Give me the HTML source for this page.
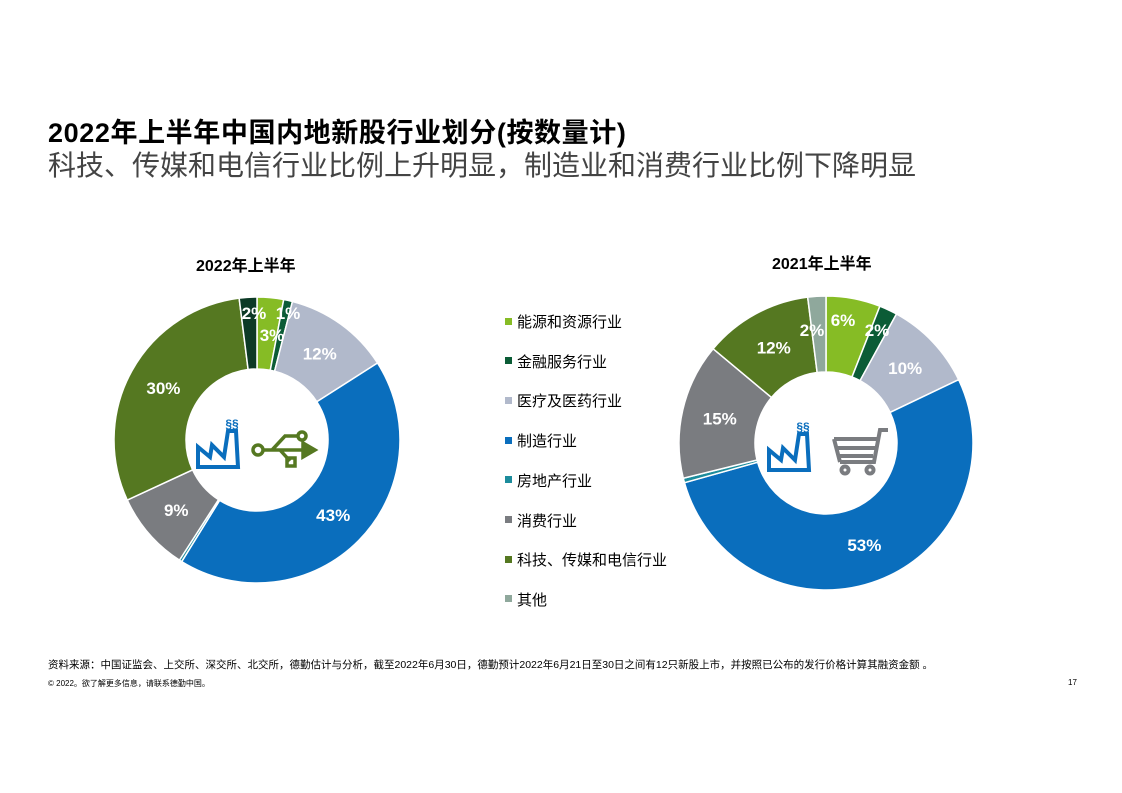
<!DOCTYPE html>
<html><head><meta charset="utf-8"><style>
body{margin:0;background:#fff;font-family:"Liberation Sans","Noto Sans CJK SC",sans-serif;}
.wrap{position:relative;width:1122px;height:793px;overflow:hidden;}
.t1{position:absolute;left:48px;top:111px;font-size:27px;font-weight:bold;color:#000;letter-spacing:0.6px;}
.t2{position:absolute;left:48px;top:144px;font-size:28px;color:#444;letter-spacing:0px;}
.ct{position:absolute;font-size:16px;font-weight:bold;color:#000;}
.leg{position:absolute;left:505px;font-size:15px;color:#000;}
.leg i{display:inline-block;width:7px;height:7px;margin-right:5px;vertical-align:middle;position:relative;top:-2px;}
.src{position:absolute;left:48px;top:657px;font-size:10.5px;color:#000;}
.cp{position:absolute;left:48px;top:678px;font-size:8px;color:#000;}
.pg{position:absolute;left:1068px;top:678px;font-size:8px;}
svg{position:absolute;left:0;top:0;}
</style></head><body><div class="wrap">
<div class="t1">2022年上半年中国内地新股行业划分(按数量计)</div>
<div class="t2">科技、传媒和电信行业比例上升明显，制造业和消费行业比例下降明显</div>
<div class="ct" style="left:196px;top:252px">2022年上半年</div>
<div class="ct" style="left:772px;top:250px">2021年上半年</div>
<div id="legend"></div>
<svg id="svg" width="1122" height="793"></svg>
<div class="src">资料来源：中国证监会、上交所、深交所、北交所，德勤估计与分析，截至2022年6月30日，德勤预计2022年6月21日至30日之间有12只新股上市，并按照已公布的发行价格计算其融资金额 。</div>
<div class="cp">© 2022。欲了解更多信息，请联系德勤中国。</div>
<div class="pg">17</div>
</div>
<script>
const categories=["能源和资源行业","金融服务行业","医疗及医药行业","制造行业","房地产行业","消费行业","科技、传媒和电信行业","其他"];
const colors=["#86bc25","#0b5c36","#b1b9cb","#0a6ebd","#1c8c9c","#7a7c80","#557821","#8fa89c"];
const values2022=[3,1,12,43,0.3,9,30,2];
const labels2022=["3%","1%","12%","43%","","9%","30%","2%"];
const values2021=[6,2,10,53,0.5,15,12,2];
const labels2021=["6%","2%","10%","53%","","15%","12%","2%"];
const NS="http://www.w3.org/2000/svg";
const svg=document.getElementById('svg');
function mk(t,a,p){const e=document.createElementNS(NS,t);for(const k in a)e.setAttribute(k,a[k]);(p||svg).appendChild(e);return e;}
function pt(cx,cy,r,a){return [cx+r*Math.sin(a),cy-r*Math.cos(a)];}
function donut(cx,cy,R,r,vals,labs,cols,name,lblPos){
  const tot=vals.reduce((a,b)=>a+b,0);let a0=0;const lbl=[];
  vals.forEach((v,i)=>{
    const a1=a0+v/tot*2*Math.PI;const lg=(a1-a0)>Math.PI?1:0;
    const p1=pt(cx,cy,R,a0),p2=pt(cx,cy,R,a1),p3=pt(cx,cy,r,a1),p4=pt(cx,cy,r,a0);
    const p=mk('path',{d:`M${p1}A${R},${R} 0 ${lg} 1 ${p2}L${p3}A${r},${r} 0 ${lg} 0 ${p4}Z`,fill:cols[i],stroke:'#fff','stroke-width':1.5});
    
    
    if(labs[i]){
      const am=(a0+a1)/2;let q=pt(cx,cy,(R+r)/2,am);
      if(lblPos[i])q=lblPos[i];
      lbl.push([q,labs[i],i]);
    }
    a0=a1;
  });
  lbl.forEach(([q,s,i])=>{
    const t=mk('text',{x:q[0],y:q[1]+6,'text-anchor':'middle','font-size':17,'font-weight':'bold',fill:'#fff','font-family':'Liberation Sans, sans-serif'});
    t.textContent=s;
    
    
  });
}
donut(257,440,143,71,values2022,labels2022,["#86bc25","#0b5c36","#b1b9cb","#0a6ebd","#1c8c9c","#7a7c80","#557821","#0c3a26"],"donut-2022",{0:[272,335],1:[288,313],7:[254,313]});
donut(826,443,147,71,values2021,labels2021,colors,"donut-2021",{0:[843,320],1:[877,330],7:[812,330]});
const leg=document.getElementById('legend');
categories.forEach((c,i)=>{const d=document.createElement('div');d.className='leg';d.style.top=(311+i*39.7)+'px';
d.innerHTML='<i style="background:'+colors[i]+'"></i>'+c;


leg.appendChild(d);});
function factory(x,y,col){const g=mk('g',{fill:'none',stroke:col,'stroke-width':4});


mk('path',{d:`M${x},${y+30}L${x},${y+10}L${x+12},${y+20}L${x+14},${y+8}L${x+26},${y+20}L${x+30},${y-6}L${x+38},${y-6}L${x+40},${y+30}Z`},g);
mk('text',{x:x+34,y:y-9,'font-size':12,'font-weight':'bold',fill:col,stroke:'none','text-anchor':'middle'},g).textContent='§§';}
factory(198,437,'#0a6ebd');factory(769,440,'#0a6ebd');
const u=mk('g',{fill:'none',stroke:'#557821','stroke-width':3.5});


mk('path',{d:'M262,450L305,450M272,450L285,436L298,436M280,450L290,461'},u);
mk('circle',{cx:258,cy:450,r:5},u);mk('circle',{cx:302,cy:436,r:4},u);
mk('rect',{x:287,y:458,width:8,height:8},u);mk('path',{d:'M303,443L315,450L303,457Z',fill:'#557821'},u);
const c=mk('g',{fill:'none',stroke:'#7a7c80','stroke-width':4});


mk('path',{d:'M888,430L880,430L874,462L840,462M834,439L877,439M836,448L875,448M838,456L873,456M834,439L840,462'},c);
mk('circle',{cx:845,cy:470,r:3.5},c);mk('circle',{cx:870,cy:470,r:3.5},c);
</script></body></html>
